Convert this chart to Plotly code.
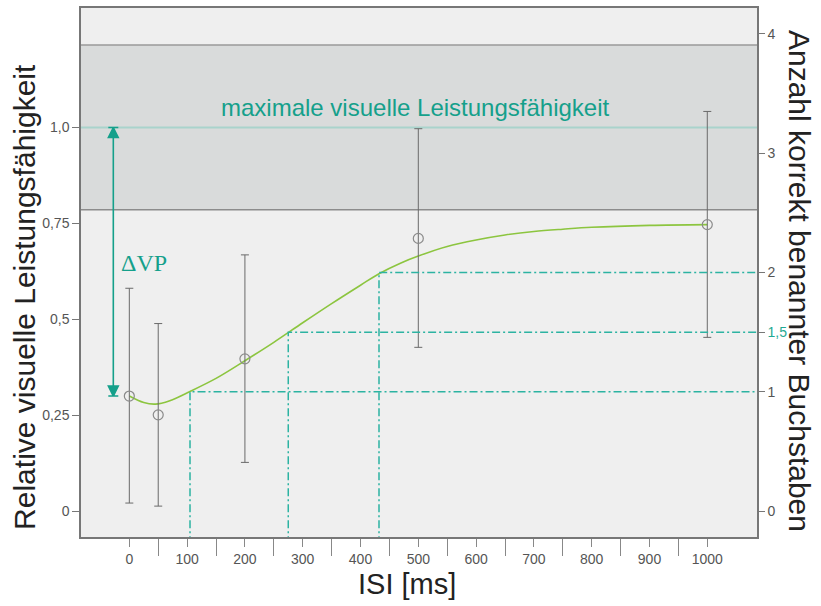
import plotly.graph_objects as go

# ---- data ----
isi = [0, 50, 200, 500, 1000]
performance = [0.300, 0.251, 0.397, 0.711, 0.747]
err_upper = [0.581, 0.489, 0.668, 0.997, 1.042]
err_lower = [0.021, 0.013, 0.127, 0.427, 0.453]

curve_x = [0, 25, 45, 70, 105, 150, 200, 250, 300, 350, 400, 432, 470, 500, 550, 600,
           650, 700, 750, 800, 900, 1000]
curve_y = [0.300, 0.283, 0.279, 0.288, 0.312, 0.346, 0.392, 0.440, 0.491, 0.541, 0.589,
           0.619, 0.647, 0.665, 0.690, 0.707, 0.720, 0.729, 0.735, 0.740, 0.745, 0.747]

threshold_isi = [105, 275, 432]
threshold_letters = [1, 1.5, 2]

band_low, band_high = 0.786, 1.215
max_perf = 1.0
dvp_low = 0.30

left_ticks = [0, 0.25, 0.5, 0.75, 1.0]
left_labels = ["0", "0,25", "0,5", "0,75", "1,0"]
right_ticks = [0, 1, 1.5, 2, 3, 4]
right_labels = ["0", "1", "<span style='color:#1fa993'>1,5</span>", "2", "3", "4"]
x_ticks = [0, 100, 200, 300, 400, 500, 600, 700, 800, 900, 1000]
x_minor = [50, 150, 250, 350, 450, 550, 650, 750, 850, 950]

TEAL = "#15a08b"
TEAL_DASH = "#2cb3a2"
GREEN = "#8cc53f"
FONT = "Liberation Sans, Arial, sans-serif"

y_range = [-0.0675, 1.3117]
scale = 3.215  # right-axis units per left-axis unit
y2_range = [y_range[0] * scale, y_range[1] * scale]
x_range = [-83.6, 1086]

fig = go.Figure()

# dash-dot threshold guides (right axis)
for tx, lv in zip(threshold_isi, threshold_letters):
    fig.add_trace(go.Scatter(
        x=[tx, tx, x_range[1] + 50], y=[y2_range[0] - 1, lv, lv],
        mode="lines", yaxis="y2",
        line=dict(color=TEAL_DASH, width=1.5, dash="8px,3px,2px,3px"),
        hoverinfo="skip", showlegend=False))

# fitted curve
fig.add_trace(go.Scatter(
    x=curve_x, y=curve_y, mode="lines",
    line=dict(color=GREEN, width=1.6, shape="spline", smoothing=1.0),
    showlegend=False, hoverinfo="skip"))

# data points with error bars
fig.add_trace(go.Scatter(
    x=isi, y=performance, mode="markers",
    marker=dict(symbol="circle-open", size=10, color="#8a8a8a", line=dict(width=1.2)),
    error_y=dict(type="data", symmetric=False,
                 array=[u - v for u, v in zip(err_upper, performance)],
                 arrayminus=[v - l for v, l in zip(performance, err_lower)],
                 color="#6a6a6a", thickness=1, width=4),
    showlegend=False))

# delta VP arrow
dvp_x = -27.7
fig.add_trace(go.Scatter(
    x=[dvp_x, dvp_x], y=[dvp_low, max_perf], mode="lines+markers",
    line=dict(color=TEAL, width=1.6),
    marker=dict(symbol=["arrow-bar-down", "arrow-bar-up"], size=10, color=TEAL,
                line=dict(color=TEAL, width=1.5)),
    showlegend=False, hoverinfo="skip"))

shapes = [
    dict(type="rect", xref="paper", yref="y", x0=0, x1=1, y0=band_low, y1=band_high,
         fillcolor="#d9dbdb", line=dict(width=0), layer="below"),
    dict(type="line", xref="paper", yref="y", x0=0, x1=1, y0=band_low, y1=band_low,
         line=dict(color="#8c8c8c", width=1.5), layer="below"),
    dict(type="line", xref="paper", yref="y", x0=0, x1=1, y0=band_high, y1=band_high,
         line=dict(color="#9a9a9a", width=1.5), layer="below"),
    dict(type="line", xref="paper", yref="y", x0=0, x1=1, y0=max_perf, y1=max_perf,
         line=dict(color="#a9d3cc", width=2), layer="below"),
]

annotations = [
    dict(x=496, y=1.052, xref="x", yref="y", text="maximale visuelle Leistungsfähigkeit",
         showarrow=False, font=dict(family=FONT, size=24, color=TEAL),
         xanchor="center", yanchor="middle"),
    dict(x=-17, y=0.647, xref="x", yref="y", text="ΔVP", showarrow=False,
         font=dict(family="Liberation Serif, Times New Roman, serif", size=24, color=TEAL),
         xanchor="left", yanchor="middle"),
    dict(x=25, y=296, xref="paper", yref="paper", text="Relative visuelle Leistungsfähigkeit",
         showarrow=False, textangle=-90, font=dict(family=FONT, size=30, color="#222"),
         xanchor="center", yanchor="middle"),
    dict(x=799, y=280, xref="paper", yref="paper", text="Anzahl korrekt benannter Buchstaben",
         showarrow=False, textangle=90, font=dict(family=FONT, size=30, color="#222"),
         xanchor="center", yanchor="middle"),
    dict(x=407, y=584, xref="paper", yref="paper", text="ISI [ms]",
         showarrow=False, font=dict(family=FONT, size=29, color="#222"),
         xanchor="center", yanchor="middle"),
]

# convert pixel-based title positions to paper coords
L, R, T, B = 81, 64, 6, 69
W, H = 821, 606
pw, ph = W - L - R, H - T - B
for a in annotations[2:]:
    px, py = a["x"], a["y"]
    a["x"] = (px - L) / pw
    a["y"] = 1 - (py - T) / ph

fig.update_layout(
    width=W, height=H,
    margin=dict(l=L, r=R, t=T, b=B, pad=0),
    paper_bgcolor="white", plot_bgcolor="#efefef",
    font=dict(family=FONT, color="#555"),
    shapes=shapes, annotations=annotations,
    xaxis=dict(range=x_range, tickvals=x_ticks, ticks="outside", ticklen=8, tickwidth=1,
               tickcolor="#888", tickfont=dict(size=14, color="#555"),
               minor=dict(tickvals=x_minor, ticks="outside", ticklen=17, tickwidth=1,
                          tickcolor="#888"),
               showgrid=False, zeroline=False, showline=True, linecolor="#777",
               linewidth=1.5, mirror=True),
    yaxis=dict(range=y_range, tickvals=left_ticks, ticktext=left_labels, ticks="outside",
               ticklen=7, tickcolor="#777", tickfont=dict(size=14, color="#555"),
               showgrid=False, zeroline=False, showline=True, linecolor="#777",
               linewidth=1.5, mirror=True),
    yaxis2=dict(range=y2_range, tickvals=right_ticks, ticktext=right_labels,
                overlaying="y", side="right", ticks="outside", ticklen=6,
                tickcolor="#777", tickfont=dict(size=14, color="#555"),
                showgrid=False, zeroline=False, showline=True, linecolor="#777",
                linewidth=1.5),
)

fig.write_html("out.html", config={"displayModeBar": False},
               post_script="document.body.style.margin='0';")
